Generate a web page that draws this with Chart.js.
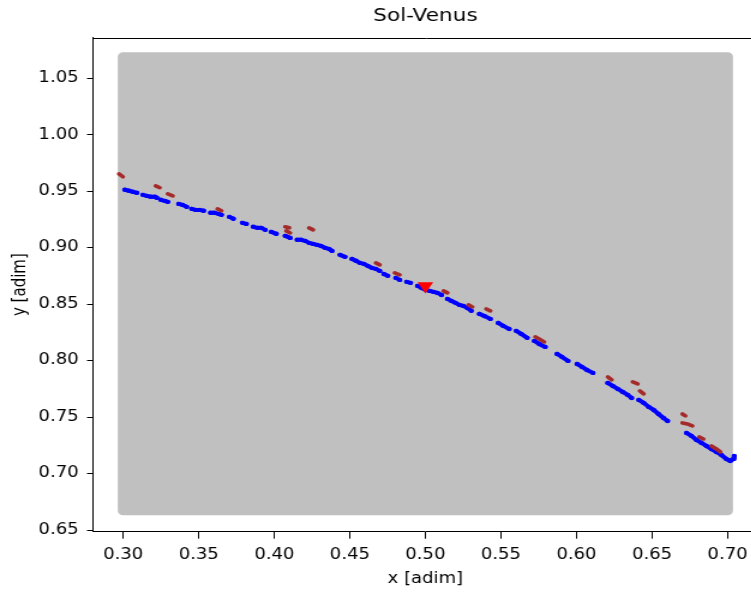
<!DOCTYPE html>
<html>
<head>
<meta charset="utf-8">
<title>Sol-Venus</title>
<script src="https://cdn.jsdelivr.net/npm/chart.js@4.4.1/dist/chart.umd.min.js"></script>
<style>
  html, body { margin: 0; padding: 0; background: #fff; overflow: hidden; }
  #wrap { width: 751px; height: 594px; overflow: hidden; }
  #stretch { width: 639px; height: 594px; transform: scaleX(1.2); transform-origin: 0 0; }
  canvas { display: block; }
</style>
</head>
<body>
<div id="wrap"><div id="stretch"><canvas id="chart" width="639" height="594"></canvas></div></div>
<script>

// grid of initial conditions (drawn as one filled block)
const gridX = [0.300, 0.700];
const gridY = [0.667, 1.069];

// trajectory points (blue), one inner list per visible dash
const blueX = [
  [0.3011, 0.3038, 0.3064, 0.3090],
  [0.3130, 0.3156, 0.3182, 0.3209, 0.3222],
  [0.3248, 0.3275, 0.3295],
  [0.3367, 0.3393, 0.3420],
  [0.3453, 0.3479, 0.3505, 0.3532],
  [0.3578, 0.3604, 0.3631, 0.3650],
  [0.3703, 0.3729],
  [0.3789, 0.3815],
  [0.3861, 0.3888, 0.3914, 0.3940],
  [0.3980, 0.4013],
  [0.4072, 0.4105],
  [0.4151, 0.4177, 0.4204, 0.4230, 0.4257, 0.4283, 0.4309, 0.4336, 0.4362, 0.4382],
  [0.4435, 0.4468],
  [0.4514, 0.4540, 0.4566, 0.4593, 0.4619, 0.4645, 0.4672, 0.4698],
  [0.4725, 0.4751],
  [0.4804, 0.4830],
  [0.4876, 0.4902],
  [0.4948, 0.4975, 0.5001, 0.5028, 0.5054, 0.5080, 0.5107],
  [0.5146, 0.5172, 0.5199, 0.5225, 0.5251, 0.5278, 0.5304],
  [0.5357, 0.5390, 0.5430],
  [0.5482, 0.5515, 0.5555],
  [0.5601, 0.5634, 0.5674],
  [0.5721, 0.5753, 0.5793],
  [0.5871, 0.5904, 0.5944],
  [0.6004, 0.6036, 0.6069, 0.6109],
  [0.6207, 0.6240, 0.6273, 0.6306, 0.6339, 0.6365],
  [0.6412, 0.6445, 0.6478, 0.6511, 0.6543, 0.6576, 0.6603],
  [0.6728, 0.6761, 0.6794, 0.6827, 0.6860, 0.6893, 0.6926, 0.6959, 0.6992, 0.7018, 0.7038, 0.7044]
];
const blueY = [
  [0.9512, 0.9503, 0.9494, 0.9485],
  [0.9467, 0.9458, 0.9450, 0.9450, 0.9441],
  [0.9423, 0.9414, 0.9405],
  [0.9387, 0.9378, 0.9361],
  [0.9343, 0.9334, 0.9334, 0.9326],
  [0.9308, 0.9308, 0.9299, 0.9290],
  [0.9272, 0.9255],
  [0.9219, 0.9210],
  [0.9184, 0.9175, 0.9175, 0.9157],
  [0.9139, 0.9122],
  [0.9104, 0.9086],
  [0.9069, 0.9069, 0.9060, 0.9042, 0.9033, 0.9024, 0.9015, 0.8998, 0.8989, 0.8971],
  [0.8936, 0.8918],
  [0.8900, 0.8883, 0.8865, 0.8856, 0.8838, 0.8821, 0.8812, 0.8794],
  [0.8767, 0.8750],
  [0.8732, 0.8714],
  [0.8697, 0.8688],
  [0.8661, 0.8643, 0.8626, 0.8617, 0.8608, 0.8599, 0.8581],
  [0.8546, 0.8528, 0.8511, 0.8493, 0.8484, 0.8466, 0.8440],
  [0.8413, 0.8395, 0.8369],
  [0.8333, 0.8307, 0.8280],
  [0.8263, 0.8236, 0.8201],
  [0.8174, 0.8147, 0.8121],
  [0.8059, 0.8032, 0.7997],
  [0.7970, 0.7944, 0.7917, 0.7891],
  [0.7802, 0.7775, 0.7749, 0.7722, 0.7696, 0.7669],
  [0.7652, 0.7625, 0.7590, 0.7563, 0.7527, 0.7492, 0.7465],
  [0.7359, 0.7333, 0.7297, 0.7271, 0.7244, 0.7217, 0.7191, 0.7164, 0.7129, 0.7111, 0.7129, 0.7155]
];

// second set of points (brown), short pieces
const brownX = [
  [0.2972, 0.2998], [0.3215, 0.3242], [0.3295, 0.3328], [0.3624, 0.3650],
  [0.4072, 0.4099], [0.4079, 0.4105], [0.4230, 0.4257], [0.4672, 0.4698],
  [0.4797, 0.4830], [0.5120, 0.5146], [0.5285, 0.5311], [0.5403, 0.5430],
  [0.5727, 0.5753, 0.5786], [0.6207, 0.6233], [0.6372, 0.6405], [0.6419, 0.6445],
  [0.6701, 0.6721], [0.6701, 0.6734, 0.6767], [0.6813, 0.6840], [0.6893, 0.6926, 0.6952]
];
const brownY = [
  [0.9653, 0.9627], [0.9547, 0.9530], [0.9476, 0.9458], [0.9343, 0.9326],
  [0.9184, 0.9175], [0.9148, 0.9130], [0.9175, 0.9157], [0.8865, 0.8847],
  [0.8776, 0.8759], [0.8617, 0.8599], [0.8493, 0.8475], [0.8457, 0.8440],
  [0.8210, 0.8192, 0.8165], [0.7855, 0.7829], [0.7811, 0.7793], [0.7731, 0.7705],
  [0.7527, 0.7510], [0.7448, 0.7439, 0.7421], [0.7324, 0.7306], [0.7244, 0.7217, 0.7191]
];

// L4 point
const l4X = [0.5];
const l4Y = [0.866];

const xTicks = [0.30, 0.35, 0.40, 0.45, 0.50, 0.55, 0.60, 0.65, 0.70];
const yTicks = [0.65, 0.70, 0.75, 0.80, 0.85, 0.90, 0.95, 1.00, 1.05];

function toPoints(xs, ys) {
  return xs.map((x, i) => ({ x: x, y: ys[i] }));
}

// pieces joined, a null point between them breaks the line
function toPieces(xs, ys) {
  const out = [];
  xs.forEach((piece, i) => {
    piece.forEach((x, j) => out.push({ x: x, y: ys[i][j] }));
    out.push({ x: null, y: null });
  });
  return out;
}

const gridShape = [
  { x: gridX[0], y: gridY[0] },
  { x: gridX[1], y: gridY[0] },
  { x: gridX[1], y: gridY[1] },
  { x: gridX[0], y: gridY[1] },
  { x: gridX[0], y: gridY[0] }
];

const frame = {
  id: "frame",
  afterDraw(chart) {
    const a = chart.chartArea;
    const ctx = chart.ctx;
    ctx.save();
    ctx.strokeStyle = "#000";
    ctx.lineWidth = 1;
    const t = Math.round(a.top) + 0.5;
    ctx.beginPath();
    ctx.moveTo(a.left, t);
    ctx.lineTo(a.right + 2, t);
    ctx.stroke();
    ctx.restore();
  }
};

Chart.defaults.font.family = "'DejaVu Sans', sans-serif";
Chart.defaults.color = "#000";

const tickFont = { size: 15 };

new Chart(document.getElementById("chart"), {
  type: "scatter",
  data: {
    datasets: [
      {
        data: toPoints(l4X, l4Y),
        pointStyle: "triangle",
        rotation: 180,
        pointRadius: 7.5,
        backgroundColor: "#ff0000",
        borderWidth: 0
      },
      {
        data: toPieces(brownX, brownY),
        showLine: true,
        spanGaps: false,
        borderColor: "#a52a2a",
        borderWidth: 3.6,
        borderCapStyle: "round",
        pointRadius: 0
      },
      {
        data: toPieces(blueX, blueY),
        showLine: true,
        spanGaps: false,
        borderColor: "#0000ff",
        backgroundColor: "#0000ff",
        borderWidth: 4,
        borderCapStyle: "round",
        borderJoinStyle: "round",
        pointRadius: 2.2,
        pointBorderWidth: 0
      },
      {
        type: "line",
        data: gridShape,
        showLine: true,
        borderColor: "#c0c0c0",
        backgroundColor: "#c0c0c0",
        borderWidth: 9,
        borderJoinStyle: "round",
        fill: "shape",
        pointRadius: 0,
        tension: 0
      }
    ]
  },
  options: {
    responsive: false,
    animation: false,
    events: [],
    layout: { padding: { left: 0, right: 1.2, top: 0, bottom: 0 } },
    plugins: {
      legend: { display: false },
      tooltip: { enabled: false },
      title: {
        display: true,
        text: "Sol-Venus",
        fullSize: false,
        color: "#000",
        font: { size: 18, weight: "normal" },
        padding: { top: 6, bottom: 9.9 }
      }
    },
    scales: {
      x: {
        type: "linear",
        min: 0.28,
        max: 0.72,
        afterBuildTicks: (scale) => { scale.ticks = xTicks.map(v => ({ value: v })); },
        afterFit: (scale) => {
          scale.height = 62.3;
          scale.paddingLeft = 0;
          scale.paddingRight = 0;
        },
        ticks: {
          font: tickFont,
          color: "#000",
          padding: 7,
          autoSkip: false,
          maxRotation: 0,
          callback: (v) => Number(v).toFixed(2)
        },
        grid: { drawOnChartArea: false, drawTicks: true, tickLength: 7, tickColor: "#000" },
        border: { display: true, color: "#000", width: 1 },
        title: { display: true, text: "x [adim]", color: "#000", font: { size: 15 }, padding: { top: 0, bottom: 6 } }
      },
      y: {
        type: "linear",
        min: 0.6485,
        max: 1.086,
        afterBuildTicks: (scale) => { scale.ticks = yTicks.map(v => ({ value: v })); },
        afterFit: (scale) => {
          scale.width = 77.5;
          scale.paddingTop = 0;
          scale.paddingBottom = 0;
        },
        ticks: {
          font: tickFont,
          color: "#000",
          padding: 7,
          autoSkip: false,
          callback: (v) => Number(v).toFixed(2)
        },
        grid: { drawOnChartArea: false, drawTicks: true, tickLength: 5, tickColor: "#000" },
        border: { display: true, color: "#000", width: 1 },
        title: { display: true, text: "y [adim]", color: "#000", font: { size: 15 }, padding: { top: 7.7, bottom: 0 } }
      }
    }
  },
  plugins: [frame]
});

</script>
</body>
</html>
